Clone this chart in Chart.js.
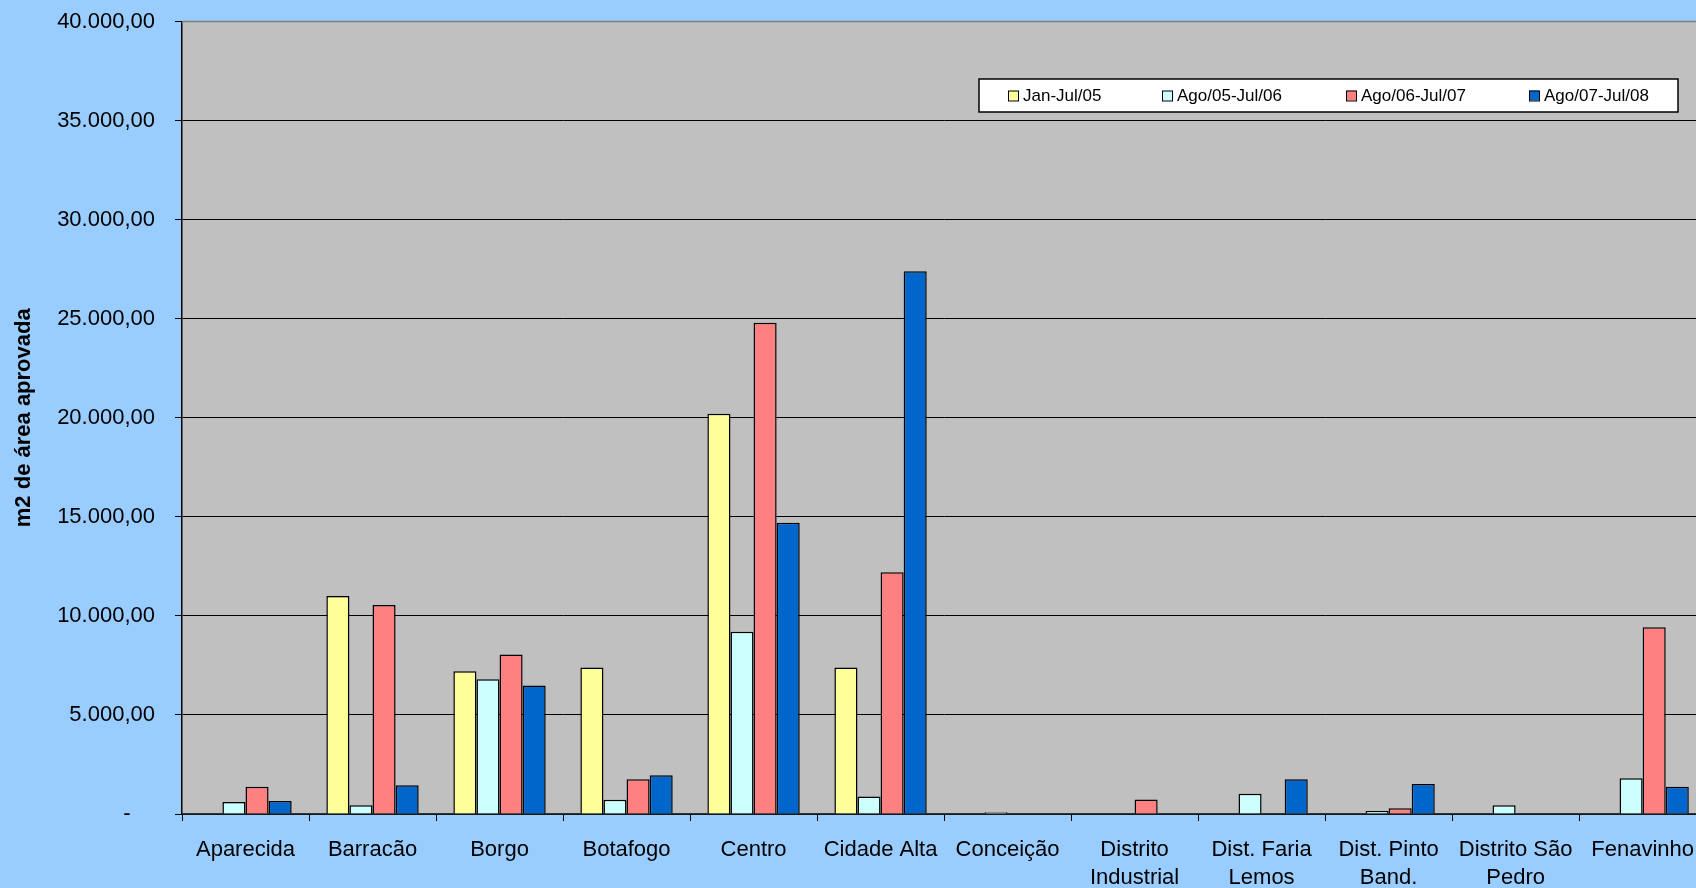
<!DOCTYPE html>
<html lang="pt">
<head>
<meta charset="utf-8">
<title>m2 de área aprovada</title>
<script src="https://cdn.jsdelivr.net/npm/chart.js@4.4.0/dist/chart.umd.min.js"></script>
<style>
  html, body { margin: 0; padding: 0; background: #99CCFF; overflow: hidden; }
  canvas { display: block; }
</style>
</head>
<body>
<canvas id="chart" width="1709" height="888"></canvas>
<script>
// Categorias (bairros / distritos)
const bairros = ['Aparecida', 'Barracão', 'Borgo', 'Botafogo', 'Centro', 'Cidade Alta', 'Conceição',
    ['Distrito', 'Industrial'], ['Dist. Faria', 'Lemos'], ['Dist. Pinto', 'Band.'], ['Distrito São', 'Pedro'], 'Fenavinho'];

// Períodos (séries)
const periodos = ['Jan-Jul/05', 'Ago/05-Jul/06', 'Ago/06-Jul/07', 'Ago/07-Jul/08'];
const cores = ['#FFFF99', '#CCFFFF', '#FF8080', '#0066CC'];

// m2 de área aprovada, por período
const janJul05   = [null, 11000, 7200, 7400, 20200, 7400, null, null, null, null, null, null];
const ago05Jul06 = [600, 440, 6800, 720, 9200, 880, 90, null, 1020, 150, 440, 1800];
const ago06Jul07 = [1370, 10550, 8050, 1750, 24800, 12200, null, 730, null, 290, null, 9420];
const ago07Jul08 = [660, 1450, 6480, 1950, 14700, 27400, null, null, 1750, 1520, null, 1370];

// Eixo Y (formato contábil: zero vira "-")
const yTicks = [0, 5000, 10000, 15000, 20000, 25000, 30000, 35000, 40000];
const yTickLabels = ['-    ', '5.000,00', '10.000,00', '15.000,00', '20.000,00', '25.000,00', '30.000,00', '35.000,00', '40.000,00'];

const FONT = "'Liberation Sans', Arial, sans-serif";
Chart.defaults.color = '#000';
Chart.defaults.font.family = FONT;

const series = [janJul05, ago05Jul06, ago06Jul07, ago07Jul08];

// Plot background + top border
const plotArea = {
    id: 'plotArea',
    beforeDraw(chart) {
        const {ctx, chartArea: a} = chart;
        ctx.save();
        ctx.fillStyle = '#C0C0C0';
        ctx.fillRect(a.left, a.top, a.right - a.left, a.bottom - a.top);
        ctx.restore();
    },
    afterDatasetsDraw(chart) {
        const {ctx, chartArea: a} = chart;
        ctx.save();
        ctx.strokeStyle = '#808080';
        ctx.lineWidth = 1.5;
        ctx.beginPath();
        ctx.moveTo(a.left, a.top);
        ctx.lineTo(a.right, a.top);
        ctx.stroke();
        ctx.restore();
    }
};

// Legend box drawn inside the plot
const legendItemX = [29, 183, 367, 550];
const boxLegend = {
    id: 'boxLegend',
    afterDraw(chart) {
        const ctx = chart.ctx;
        const box = {x: 979, y: 79, w: 699, h: 33};
        ctx.save();
        ctx.fillStyle = '#fff';
        ctx.fillRect(box.x, box.y, box.w, box.h);
        ctx.strokeStyle = '#000';
        ctx.lineWidth = 1.5;
        ctx.strokeRect(box.x, box.y, box.w, box.h);

        ctx.font = '17px ' + FONT;
        ctx.textBaseline = 'middle';
        const cy = box.y + box.h / 2;
        chart.data.datasets.forEach((ds, i) => {
            const x = box.x + legendItemX[i];
            ctx.fillStyle = ds.backgroundColor;
            ctx.fillRect(x, cy - 5, 10, 10);
            ctx.lineWidth = 1;
            ctx.strokeRect(x + 0.5, cy - 5 + 0.5, 10, 10);
            ctx.fillStyle = '#000';
            ctx.fillText(ds.label, x + 15, cy + 1);
        });
        ctx.restore();
    }
};

new Chart(document.getElementById('chart'), {
    type: 'bar',
    data: {
        labels: bairros,
        datasets: periodos.map((p, i) => ({
            label: p,
            data: series[i],
            backgroundColor: cores[i],
            borderColor: '#000',
            borderWidth: 1.5,
            categoryPercentage: 0.727,
            barPercentage: 1.0
        }))
    },
    options: {
        responsive: false,
        animation: false,
        devicePixelRatio: 1,
        layout: { padding: { top: 21.5, left: 0, right: 0, bottom: 0 } },
        plugins: {
            legend: { display: false },
            tooltip: { enabled: false }
        },
        scales: {
            x: {
                afterFit(scale) { scale.height = 74; },
                grid: { offset: true, drawOnChartArea: false, color: '#000', tickLength: 7 },
                border: { color: '#333', width: 1.5 },
                ticks: {
                    autoSkip: false,
                    maxRotation: 0,
                    padding: 15,
                    font: { size: 22, lineHeight: 1.27 }
                }
            },
            y: {
                min: 0,
                max: 40000,
                afterFit(scale) {
                    scale.width = 182;
                    scale.paddingTop = 0;
                    scale.paddingBottom = 0;
                },
                afterBuildTicks(scale) { scale.ticks = yTicks.map(v => ({ value: v })); },
                grid: { color: '#000', lineWidth: 1, tickLength: 7 },
                border: { color: '#000', width: 1.5 },
                ticks: {
                    padding: 20,
                    font: { size: 22 },
                    callback: (v) => yTickLabels[yTicks.indexOf(v)]
                },
                title: {
                    display: true,
                    text: 'm2 de área aprovada',
                    font: { size: 22, weight: 'bold' },
                    padding: { top: 11, bottom: 0 }
                }
            }
        }
    },
    plugins: [plotArea, boxLegend]
});
</script>
</body>
</html>
